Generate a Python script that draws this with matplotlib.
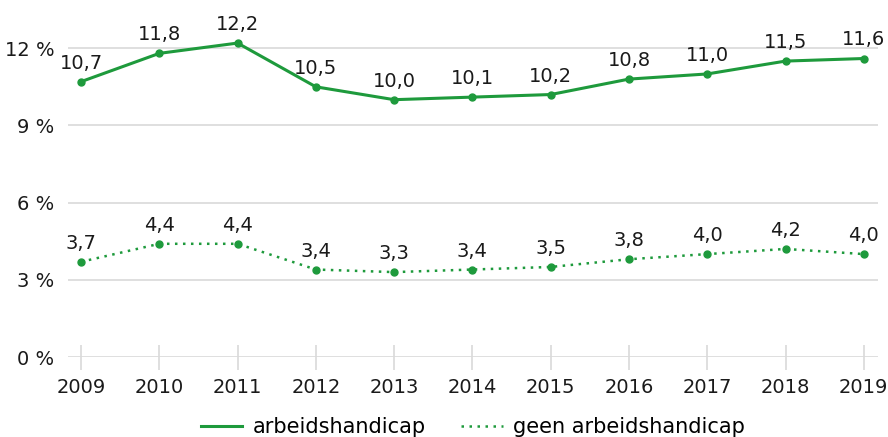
import matplotlib.pyplot as plt
from matplotlib.lines import Line2D

# data
years = [2009, 2010, 2011, 2012, 2013, 2014, 2015, 2016, 2017, 2018, 2019]
met = [10.7, 11.8, 12.2, 10.5, 10.0, 10.1, 10.2, 10.8, 11.0, 11.5, 11.6]
zonder = [3.7, 4.4, 4.4, 3.4, 3.3, 3.4, 3.5, 3.8, 4.0, 4.2, 4.0]
yticks = [0, 3, 6, 9, 12]

green = '#1e9a3c'
dotted = (0, (1, 2.2))
plt.rcParams['font.family'] = ['DejaVu Sans']

fig = plt.figure(figsize=(8.88, 4.37), dpi=100)
ax = fig.add_axes([0.0766, 0.183, 0.912, 0.795])

ax.plot(years, met, color=green, lw=2.2, marker='o', ms=5)
ax.plot(years, zonder, color=green, lw=1.8, ls=dotted, marker='o', ms=5)

# value labels with decimal comma
for x, y in zip(years, met):
    ax.annotate(f'{y:.1f}'.replace('.', ','), (x, y), xytext=(0, 6.5),
                textcoords='offset points', ha='center', va='bottom', fontsize=14, color='#1a1a1a')
for x, y in zip(years, zonder):
    ax.annotate(f'{y:.1f}'.replace('.', ','), (x, y), xytext=(0, 6.5),
                textcoords='offset points', ha='center', va='bottom', fontsize=14, color='#1a1a1a')

ax.set_xlim(2009 - 0.166, 2019.18)
ax.set_ylim(0, 13.5)
ax.set_yticks(yticks)
ax.set_yticklabels([f'{t} %' for t in yticks])
ax.set_xticks(years)
ax.grid(axis='y', color='#d9d9d9', lw=1.2)
ax.set_axisbelow(True)
for s in ax.spines.values():
    s.set_visible(False)
ax.tick_params(axis='y', length=0, pad=10, labelsize=14, labelcolor='#1a1a1a')
ax.tick_params(axis='x', direction='inout', length=18, width=1.2, color='#d9d9d9',
               pad=6, labelsize=14, labelcolor='#1a1a1a')

handles = [Line2D([], [], color=green, lw=2.2),
           Line2D([], [], color=green, lw=1.8, ls=dotted)]
ax.legend(handles, ['arbeidshandicap', 'geen arbeidshandicap'],
          loc='upper center', bbox_to_anchor=(0.5, -0.12), ncol=2, frameon=False,
          fontsize=15, handlelength=2, columnspacing=1.7, handletextpad=0.5)

fig.savefig('out.png', dpi=100)
